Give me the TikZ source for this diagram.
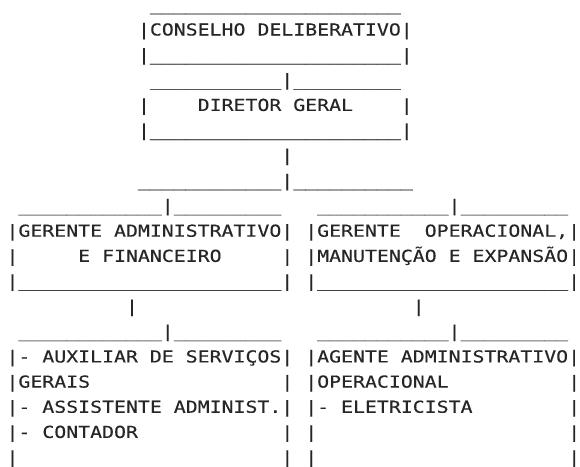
\documentclass[tikz,border=0pt]{standalone}
\usepackage{fontspec}
\newfontfamily\asciimono[FakeStretch=1.203,FakeBold=0.3]{DejaVu Sans Mono}
\definecolor{ink}{RGB}{38,38,38}
\tikzset{
  txt/.style={anchor=base west, inner sep=0pt, outer sep=0pt, text=ink,
    font=\asciimono\fontsize{16.5}{20}\selectfont},
  toprow/.style={text height=2pt},
  lastrow/.style={text depth=1pt}
}
\newcommand{\colx}[1]{6.5+11.95*#1}
\newcommand{\rowy}[1]{35.5+25.15*(#1-2)}
\begin{document}
\begin{tikzpicture}[x=1pt,y=-1pt]
\useasboundingbox (0,0) rectangle (580,466);
% top: conselho
\node[txt,toprow] (l1) at ({\colx{12}},{\rowy{1}}) {\_\_\_\_\_\_\_\_\_\_\_\_\_\_\_\_\_\_\_\_\_};
\node[txt] (l2) at ({\colx{11}},{\rowy{2}}) {|CONSELHO~DELIBERATIVO|};
\node[txt] (l3) at ({\colx{11}},{\rowy{3}}) {|\_\_\_\_\_\_\_\_\_\_\_\_\_\_\_\_\_\_\_\_\_|};
% diretor
\node[txt] (l4) at ({\colx{12}},{\rowy{4}}) {\_\_\_\_\_\_\_\_\_\_\_|\_\_\_\_\_\_\_\_\_};
\node[txt] (l5) at ({\colx{11}},{\rowy{5}}) {|~~~~DIRETOR~GERAL~~~~|};
\node[txt] (l6) at ({\colx{11}},{\rowy{6}}) {|\_\_\_\_\_\_\_\_\_\_\_\_\_\_\_\_\_\_\_\_\_|};
\node[txt] (l7) at ({\colx{23}},{\rowy{7}}) {|};
\node[txt] (l8) at ({\colx{11}},{\rowy{8}}) {\_\_\_\_\_\_\_\_\_\_\_\_|\_\_\_\_\_\_\_\_\_\_};
% gerentes
\node[txt] (l9) at ({\colx{1}},{\rowy{9}}) {\_\_\_\_\_\_\_\_\_\_\_\_|\_\_\_\_\_\_\_\_\_~~~\_\_\_\_\_\_\_\_\_\_\_|\_\_\_\_\_\_\_\_\_};
\node[txt] (l10) at ({\colx{0}},{\rowy{10}}) {|GERENTE~ADMINISTRATIVO|~|GERENTE~~OPERACIONAL,|};
\node[txt] (l11) at ({\colx{0}},{\rowy{11}}) {|~~~~~E~FINANCEIRO~~~~~|~|MANUTENÇÃO~E~EXPANSÃO|};
\node[txt] (l12) at ({\colx{0}},{\rowy{12}}) {|\_\_\_\_\_\_\_\_\_\_\_\_\_\_\_\_\_\_\_\_\_\_|~|\_\_\_\_\_\_\_\_\_\_\_\_\_\_\_\_\_\_\_\_\_|};
\node[txt] (l13a) at ({\colx{10}},{\rowy{13}}) {|};
\node[txt] (l13b) at ({\colx{34}},{\rowy{13}}) {|};
% staff
\node[txt] (l14) at ({\colx{1}},{\rowy{14}}) {\_\_\_\_\_\_\_\_\_\_\_\_|\_\_\_\_\_\_\_\_\_~~~\_\_\_\_\_\_\_\_\_\_\_|\_\_\_\_\_\_\_\_\_};
\node[txt] (l15) at ({\colx{0}},{\rowy{15}}) {|-~AUXILIAR~DE~SERVIÇOS|~|AGENTE~ADMINISTRATIVO|};
\node[txt] (l16) at ({\colx{0}},{\rowy{16}}) {|GERAIS~~~~~~~~~~~~~~~~|~|OPERACIONAL~~~~~~~~~~|};
\node[txt] (l17) at ({\colx{0}},{\rowy{17}}) {|-~ASSISTENTE~ADMINIST.|~|-~ELETRICISTA~~~~~~~~|};
\node[txt] (l18) at ({\colx{0}},{\rowy{18}}) {|-~CONTADOR~~~~~~~~~~~~|~|~~~~~~~~~~~~~~~~~~~~~|};
\node[txt,lastrow] (l19) at ({\colx{0}},{\rowy{19}}) {|~~~~~~~~~~~~~~~~~~~~~~|~|~~~~~~~~~~~~~~~~~~~~~|};
\end{tikzpicture}
\end{document}
